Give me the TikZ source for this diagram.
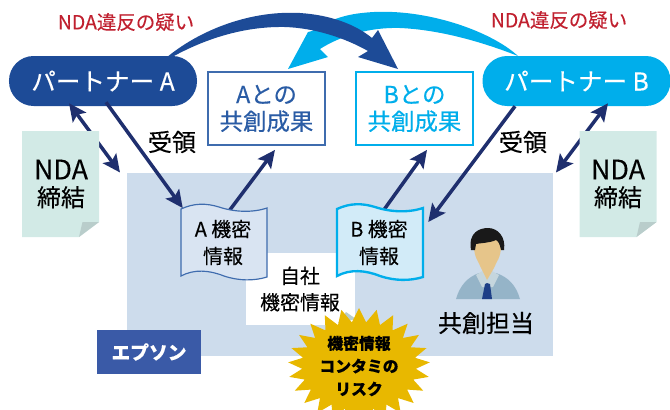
\documentclass[tikz,border=0pt]{standalone}
\usepackage{fontspec}
\setmainfont{Noto Sans CJK JP}[FakeBold=0.25]
\usetikzlibrary{arrows.meta,shapes.symbols}
\definecolor{navy}{HTML}{1F2F6E}
\definecolor{dkblue}{HTML}{1D4B97}
\definecolor{skblue}{HTML}{00AEEB}
\definecolor{boxblue}{HTML}{3F6CAE}
\definecolor{txtblue}{HTML}{2A5CA5}
\definecolor{panel}{HTML}{CDDCEC}
\definecolor{paper}{HTML}{D2EAE6}
\definecolor{fold}{HTML}{B9CDCB}
\definecolor{ndared}{HTML}{C0202F}
\definecolor{epblue}{HTML}{3A5AA7}
\definecolor{riskgold}{HTML}{E8B800}
\definecolor{docfillA}{HTML}{D9E4F2}
\definecolor{docfillB}{HTML}{D2EBF8}
\definecolor{shirt}{HTML}{95B4C8}
\definecolor{collar}{HTML}{C5D6DE}
\definecolor{skin}{HTML}{E6C58A}
\definecolor{tiecol}{HTML}{1D3F87}
\tikzset{
  partner/.style={minimum width=5.64cm,minimum height=1.5cm,rounded corners=.74cm,text=white,font=\fontsize{21}{24}\selectfont},
  resultbox/.style={draw,line width=1.8pt,fill=white,minimum width=3.5cm,minimum height=2.18cm,align=center,font=\fontsize{20}{23}\selectfont},
  navyarrow/.style={draw=navy,line width=3pt,-{Stealth[length=15pt,width=14pt,inset=3pt]}},
  bothways/.style={navyarrow,{Stealth[length=15pt,width=14pt,inset=3pt]}-{Stealth[length=15pt,width=14pt,inset=3pt]}},
  ndatext/.style={text=ndared,font=\fontsize{16.6}{18}\selectfont},
  label/.style={font=\fontsize{20.5}{23}\selectfont,align=center},
  doctext/.style={font=\fontsize{17}{23}\selectfont,align=center},
  ndapaper/.pic={
    \fill[paper] (-38.5,-53) -- (38.5,-53) -- (38.5,38) -- (18.5,53) -- (-38.5,53) -- cycle;
    \fill[fold] (38.5,38) -- (18.5,53) -- (22,38) -- cycle;
  },
  wavedoc/.pic={
    \path[pic actions] (-43,-33) .. controls (-30,-39) and (-18,-39) .. (-5,-35)
      .. controls (10,-30) and (28,-29) .. (43,-34) -- (43,35)
      .. controls (30,39) and (15,39) .. (0,34)
      .. controls (-15,28) and (-30,27) .. (-43,34) -- cycle;
  },
}
\begin{document}
\begin{tikzpicture}[x=0.03cm,y=-0.03cm]
  \useasboundingbox (0,0) rectangle (670,409);
  \fill[panel] (127,173) rectangle (553,356);
  \node[fill=white,minimum width=3.27cm,minimum height=2.16cm] (own) at (300.5,289) {};
  \node[doctext,font=\fontsize{17}{22.5}\selectfont] at (300,289) {自社\\機密情報};
  \fill[fold] (338,323) -- (346,312) -- (356,319) -- cycle;

  \node[partner,fill=dkblue] (partnerA) at (103,81) {パートナー A};
  \node[partner,fill=skblue] (partnerB) at (576.5,81) {パートナー B};
  \node[resultbox,draw=boxblue,text=txtblue] (resultA) at (266.5,108.5) {Aとの\\共創成果};
  \node[resultbox,draw=skblue,text=skblue] (resultB) at (414.5,108.5) {Bとの\\共創成果};

  \node[inner sep=0pt,minimum width=2.58cm,minimum height=2.2cm] (docA) at (224,242) {};
  \node[inner sep=0pt,minimum width=2.58cm,minimum height=2.2cm] (docB) at (380,242) {};
  \coordinate (panelNW) at (120,172.5);
  \coordinate (panelNE) at (556,172.5);

  \path
    ([shift={(3,-4)}]partnerA.south) edge[navyarrow] ([shift={(2,3)}]docA.north west)
    ([shift={(5,6)}]docA.north) edge[navyarrow] ([shift={(8.5,4)}]resultA.south)
    ([shift={(3,6)}]docB.north) edge[navyarrow] ([shift={(12.5,4)}]resultB.south)
    ([shift={(-61.5,0)}]partnerB.south) edge[navyarrow] ([shift={(5,-20)}]docB.east)
    ([shift={(-34,-3)}]partnerA.south) edge[bothways] (panelNW)
    ([shift={(31.5,-3)}]partnerB.south) edge[bothways] (panelNE)
    ;

  \pic at (60.5,184) {ndapaper};
  \pic at (618,184) {ndapaper};
  \node[label] (ndaA) at (61,184) {\fontsize{23}{23}\selectfont NDA\\締結};
  \node[label] (ndaB) at (618,184) {\fontsize{23}{23}\selectfont NDA\\締結};

  \pic[draw=boxblue,fill=docfillA,line width=1pt] at (224,242) {wavedoc};
  \pic[draw=skblue,fill=docfillB,line width=2pt] at (380,242) {wavedoc};
  \node[doctext] at (223,242.5) {A 機密\\情報};
  \node[doctext] at (379,242.5) {B 機密\\情報};

  \fill[skblue] (518,56) .. controls (490,30) and (420,6) .. (362,13)
    .. controls (342,15) and (325,22) .. (312,31) -- (308,32) -- (288,69) -- (328,57) -- (320,49)
    .. controls (340,36) and (370,27) .. (400,28)
    .. controls (445,30) and (490,45) .. (518,56) -- cycle;
  \fill[dkblue] (157,66) .. controls (190,34) and (245,10) .. (300,13)
    .. controls (330,15) and (355,24) .. (372,38) -- (378,30) -- (398,69) -- (358,57) -- (368,51)
    .. controls (345,38) and (315,28) .. (285,27)
    .. controls (235,26) and (190,45) .. (157,66) -- cycle;

  \node[ndatext] (violA) at (126,22) {NDA違反の疑い};
  \node[ndatext] (violB) at (559,20) {NDA違反の疑い};
  \node[label] (recvA) at (172,142) {受領};
  \node[label] (recvB) at (523,142) {受領};
  \node[label] (lead) at (486,323) {共創担当};

  % person
  \fill[shirt] (456,299) .. controls (460,285) and (468,277) .. (479,273) -- (496,273)
    .. controls (508,277) and (516,285) .. (520,299) -- cycle;
  \fill[collar] (476,275) -- (487,268) -- (499,275) -- (493,287) -- (482,287) -- cycle;
  \fill[skin] (474,246) .. controls (474,258) and (479,262) .. (481,268) -- (487,280) -- (494,268)
    .. controls (496,262) and (501,258) .. (501,246) .. controls (501,232) and (474,232) .. (474,246) -- cycle;
  \fill[tiecol] (485,284) -- (487,283) -- (490,284) -- (492,299) -- (482,299) -- cycle;
  \fill[black!90] (471,250) .. controls (468,232) and (480,228) .. (488,228)
    .. controls (498,228) and (506,237) .. (504,250) -- (501,250) .. controls (500,244) and (498,241) .. (496,240)
    .. controls (490,243) and (480,243) .. (476,244) -- (475,250) -- cycle;

  \node[fill=epblue,text=white,minimum width=3.12cm,minimum height=1.32cm,font=\bfseries\fontsize{16}{19}\selectfont] (epsilon) at (149,352) {エプソン};
  \node[starburst,fill=riskgold,starburst points=25,random starburst=0,starburst point height=.42cm,
    minimum width=4.26cm,minimum height=3.48cm,inner sep=0pt,align=center,
    font=\bfseries\fontsize{13.5}{19.5}\selectfont] (risk) at (359,366) {機密情報\\コンタミの\\リスク};
\end{tikzpicture}
\end{document}
